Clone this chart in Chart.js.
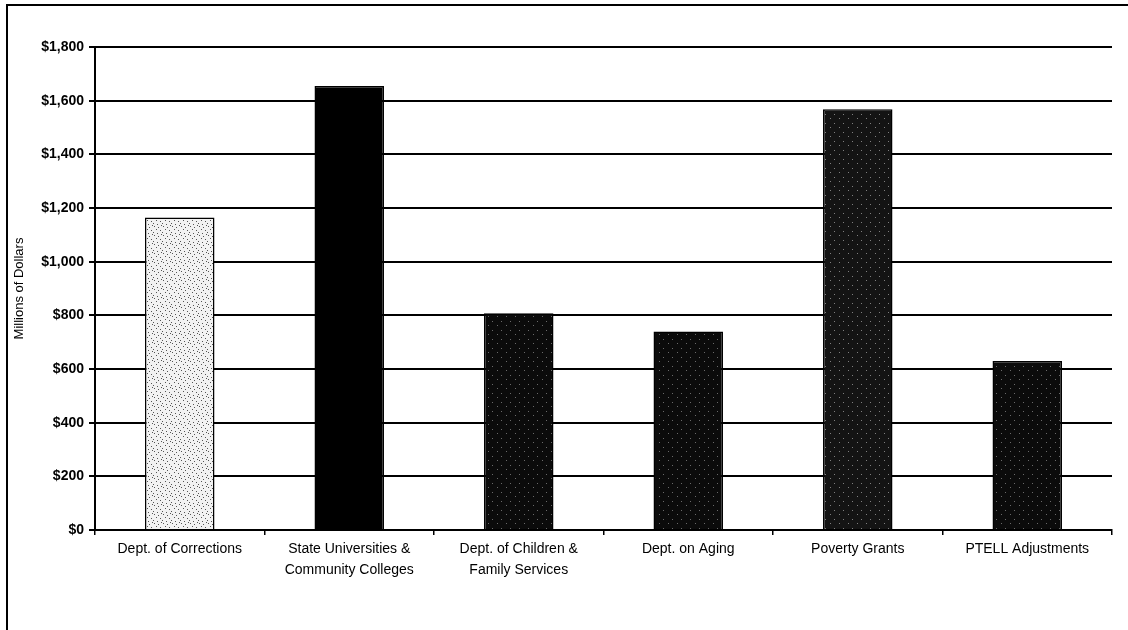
<!DOCTYPE html>
<html>
<head>
<meta charset="utf-8">
<script src="https://cdn.jsdelivr.net/npm/chart.js@4"></script>
<style>
  html, body { margin: 0; padding: 0; background: #fff; }
  #wrap { position: relative; width: 1128px; height: 630px; }
  #frame { position: absolute; left: 6px; top: 4px; right: 0; bottom: 0;
           border-top: 2px solid #000; border-left: 2px solid #000; }
  #chart { position: absolute; left: 0; top: 0; }
</style>
</head>
<body>
<div id="wrap">
  <div id="frame"></div>
  <canvas id="chart" width="1128" height="630"></canvas>
</div>
<script>
// categories (multi-line labels as in the original)
const categories = [
  ["Dept. of Corrections"],
  ["State Universities &", "Community Colleges"],
  ["Dept. of Children &", "Family Services"],
  ["Dept. on Aging"],
  ["Poverty Grants"],
  ["PTELL Adjustments"]
];
// millions of dollars
const values = [1165, 1655, 808, 740, 1568, 630];
const yTicks = [0, 200, 400, 600, 800, 1000, 1200, 1400, 1600, 1800];

// stipple patterns, fixed dot layout
function stipple(bg, dot, pts) {
  const c = document.createElement("canvas");
  c.width = 9; c.height = 9;
  const g = c.getContext("2d");
  g.fillStyle = bg;
  g.fillRect(0, 0, 9, 9);
  g.fillStyle = dot;
  pts.forEach(function(p){ g.fillRect(p[0], p[1], 1, 1); });
  return g.createPattern(c, "repeat");
}

const dotsA = [[1,1],[5,2],[3,4],[7,5],[0,7],[4,8],[8,0]];
const dotsB = [[2,1],[6,6]];

const light = stipple("#f2f2f2", "#555", dotsA);
const dark = stipple("#0b0b0b", "#6a6a6a", dotsB);
const grey = stipple("#141414", "#808080", dotsB);

const fills = [light, "#000", dark, dark, grey, dark];

new Chart(
  document.getElementById("chart").getContext("2d"),
  {
    type: "bar",
    data: {
      labels: categories,
      datasets: [{
        data: values,
        backgroundColor: fills,
        borderColor: "#000",
        borderWidth: 1.5,
        barPercentage: 0.41,
        categoryPercentage: 1
      }]
    },
    options: {
      responsive: false,
      animation: false,
      layout: { padding: { top: 47, right: 16, bottom: 0, left: 12 } },
      plugins: { legend: { display: false }, tooltip: { enabled: false } },
      scales: {
        x: {
          afterFit: function(s){ s.height = 100; },
          border: { color: "#000", width: 2 },
          grid: {
            offset: true,
            drawOnChartArea: false,
            color: "#000",
            lineWidth: 1.5,
            tickLength: 5
          },
          ticks: {
            color: "#000",
            font: { family: "Liberation Sans, Arial", size: 14, lineHeight: 1.5 },
            maxRotation: 0,
            autoSkip: false,
            padding: 4
          }
        },
        y: {
          min: 0,
          max: 1800,
          afterFit: function(s){ s.width = 83; },
          afterBuildTicks: function(s){
            s.ticks = yTicks.map(function(v){ return { value: v }; });
          },
          border: { color: "#000", width: 2 },
          grid: { color: "#000", lineWidth: 2, tickLength: 6 },
          title: {
            display: true,
            text: "Millions of Dollars",
            color: "#000",
            font: { family: "Liberation Sans, Arial", size: 13 },
            padding: { top: 0, bottom: 4 }
          },
          ticks: {
            color: "#000",
            font: { family: "Liberation Sans, Arial", size: 14, weight: "bold" },
            padding: 5,
            callback: function(v){ return "$" + v.toLocaleString("en-US"); }
          }
        }
      }
    }
  }
);
</script>
</body>
</html>
